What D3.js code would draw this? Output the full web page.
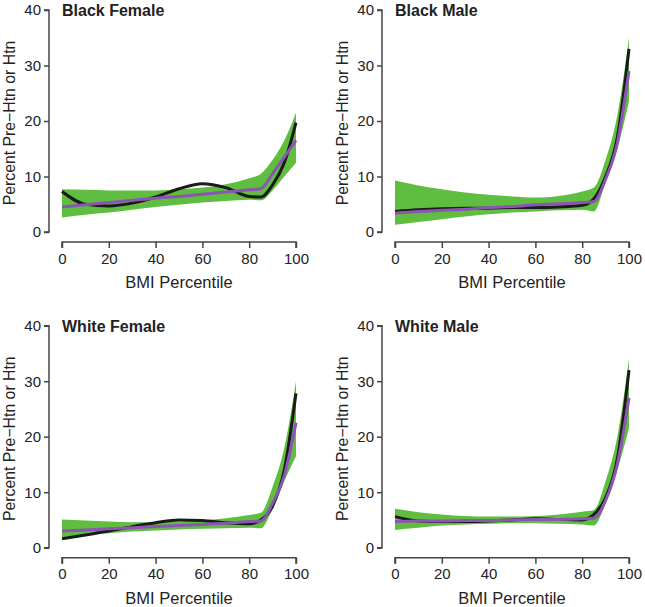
<!DOCTYPE html>
<html>
<head>
<meta charset="utf-8">
<script src="https://cdn.jsdelivr.net/npm/d3@7"></script>
<style>
  body { margin: 0; background: #fff; }
  text { font-family: "Liberation Sans", Arial, sans-serif; fill: #222; }
</style>
</head>
<body>
<svg id="chart" width="645" height="607"></svg>
<script>
"use strict";

const pct = [0, 10, 20, 30, 40, 50, 60, 70, 80, 85, 90, 95, 100];

const panelNames = ["Black Female", "Black Male", "White Female", "White Male"];

// green confidence band, lower and upper
const bandLow = [
    [2.6, 3.1, 3.5, 4.0, 4.5, 4.9, 5.3, 5.6, 5.8, 5.7, 7.5, 10.0, 12.5],
    [1.3, 1.8, 2.3, 2.8, 3.2, 3.5, 3.7, 3.9, 4.0, 3.7, 9.0, 15.0, 23.5],
    [1.7, 2.2, 2.6, 2.9, 3.1, 3.3, 3.4, 3.5, 3.6, 3.5, 7.0, 12.0, 16.5],
    [3.2, 3.6, 4.0, 4.2, 4.3, 4.4, 4.4, 4.3, 4.2, 4.0, 8.0, 14.0, 21.5]
];
const bandHigh = [
    [7.7, 7.6, 7.5, 7.5, 7.5, 7.7, 8.0, 8.6, 9.7, 10.5, 13.0, 16.5, 21.5],
    [9.3, 8.4, 7.7, 7.1, 6.7, 6.4, 6.2, 6.5, 7.3, 8.0, 13.0, 21.0, 35.0],
    [5.1, 4.9, 4.7, 4.6, 4.6, 4.7, 4.9, 5.3, 5.9, 6.3, 11.0, 18.0, 30.0],
    [7.0, 6.4, 6.0, 5.7, 5.6, 5.6, 5.7, 6.0, 6.5, 6.8, 12.0, 20.0, 34.0]
];
// purple line
const purpleVals = [
    [4.5, 4.9, 5.3, 5.7, 6.1, 6.4, 6.8, 7.2, 7.6, 7.8, 10.5, 13.5, 16.5],
    [3.4, 3.7, 3.9, 4.1, 4.4, 4.6, 4.9, 5.1, 5.3, 5.5, 9.5, 16.0, 29.0],
    [3.0, 3.2, 3.4, 3.6, 3.8, 4.0, 4.2, 4.4, 4.7, 4.8, 8.0, 13.0, 22.5],
    [4.7, 4.8, 4.8, 4.9, 4.9, 5.0, 5.1, 5.1, 5.2, 5.3, 8.5, 15.0, 27.0]
];
// black line
const blackVals = [
    [7.3, 5.0, 4.7, 5.2, 6.3, 7.8, 8.7, 8.0, 6.4, 6.3, 8.5, 12.5, 19.7],
    [3.7, 4.0, 4.2, 4.3, 4.3, 4.4, 4.4, 4.5, 4.8, 6.0, 10.0, 17.0, 33.0],
    [1.6, 2.3, 3.0, 3.8, 4.5, 5.0, 4.9, 4.5, 4.3, 5.0, 7.5, 14.0, 27.8],
    [5.6, 4.8, 4.7, 4.7, 4.8, 5.0, 5.2, 5.1, 5.0, 6.0, 9.0, 16.0, 32.0]
];

const yTicks = [0, 10, 20, 30, 40];
const xTicks = [0, 20, 40, 60, 80, 100];

const svg = d3.select("#chart");
const w = 234, h = 222;

panelNames.forEach(function (name, i) {
    let col = i % 2, row = Math.floor(i / 2);
    let left = 62 + col * 333;
    let top = 10 + row * 315.7;

    let g = svg.append("g").attr("transform", `translate(${left},${top})`);
    let x = d3.scaleLinear().domain([0, 100]).range([0, w]);
    let y = d3.scaleLinear().domain([0, 40]).range([h, 0]);

    let pts = pct.map((p, k) => ({p: p, lo: bandLow[i][k], hi: bandHigh[i][k],
        pu: purpleVals[i][k], bl: blackVals[i][k]}));

    g.append("path")
        .datum(pts)
        .attr("fill", "#5fbd40")
        .attr("d", d3.area().curve(d3.curveMonotoneX)
            .x(d => x(d.p)).y0(d => y(d.lo)).y1(d => y(d.hi)));

    g.append("path")
        .datum(pts)
        .attr("fill", "none").attr("stroke", "#1a1a1a").attr("stroke-width", 3)
        .attr("d", d3.line().curve(d3.curveMonotoneX).x(d => x(d.p)).y(d => y(d.bl)));

    g.append("path")
        .datum(pts)
        .attr("fill", "none").attr("stroke", "#8b55b3").attr("stroke-width", 3)
        .attr("d", d3.line().curve(d3.curveMonotoneX).x(d => x(d.p)).y(d => y(d.pu)));

    // y axis, R style, set off to the left
    let ya = g.append("g").attr("transform", "translate(-13,0)")
        .call(d3.axisLeft(y).tickValues(yTicks).tickSize(5).tickPadding(3));
    // x axis below
    let xa = g.append("g").attr("transform", `translate(0,${h + 10})`)
        .call(d3.axisBottom(x).tickValues(xTicks).tickSize(6).tickPadding(5));

    [ya, xa].forEach(function (a) {
        a.select(".domain").attr("stroke", "#444").attr("stroke-width", 1.5);
        a.selectAll(".tick line").attr("stroke", "#444").attr("stroke-width", 1.5);
        a.selectAll(".tick text").style("font-size", "15px")
            .style("font-family", "'Liberation Sans', Arial, sans-serif").attr("fill", "#222");
    });
    ya.select(".domain").attr("d", `M-5,${y(0)}H0V${y(40)}H-5`);
    xa.select(".domain").attr("d", `M${x(0)},6V0H${x(100)}V6`);

    g.append("text")
        .attr("x", 0).attr("y", 6)
        .style("font-size", "16px").style("font-weight", "bold")
        .text(name);

    g.append("text")
        .attr("x", w / 2).attr("y", h + 56)
        .attr("text-anchor", "middle")
        .style("font-size", "16.5px")
        .text("BMI Percentile");

    g.append("text")
        .attr("transform", `translate(-47,${h / 2 + 2}) rotate(-90)`)
        .attr("text-anchor", "middle")
        .style("font-size", "15.8px")
        .text("Percent Pre\u2212Htn or Htn");
});
</script>
</body>
</html>
